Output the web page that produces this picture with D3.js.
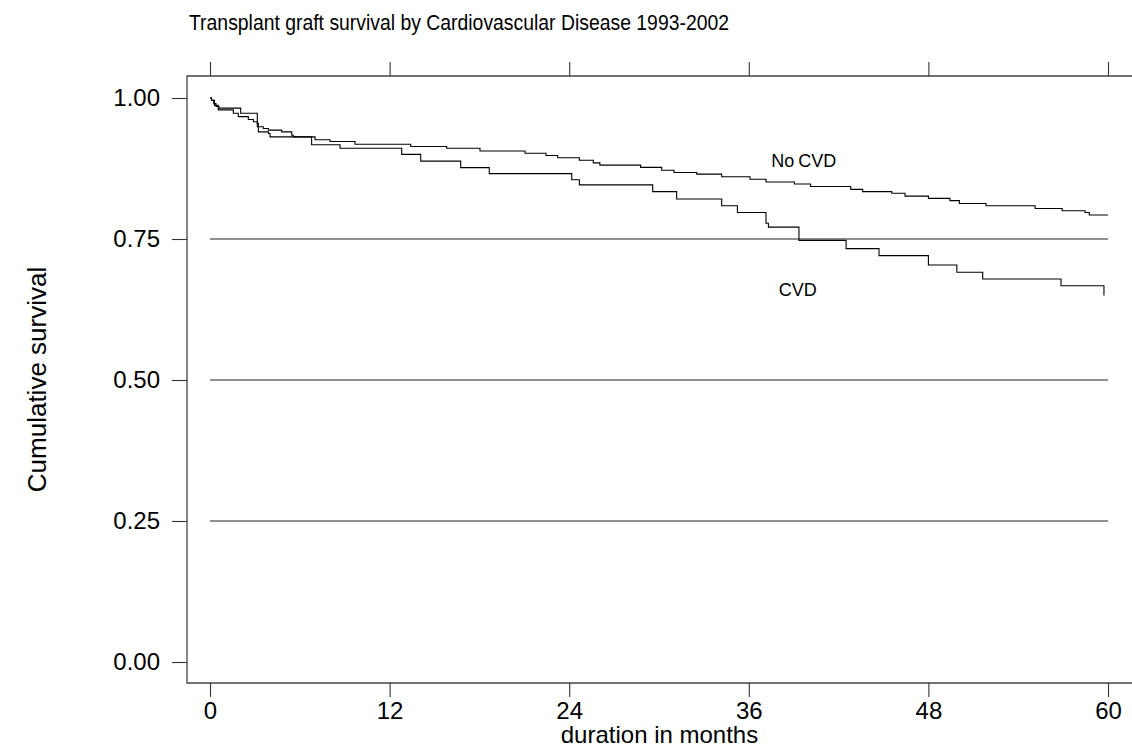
<!DOCTYPE html>
<html>
<head>
<meta charset="utf-8">
<script src="https://cdn.jsdelivr.net/npm/d3@7"></script>
<style>
  html, body { margin: 0; padding: 0; background: #fff; }
  svg text { font-family: "Liberation Sans", Arial, sans-serif; fill: #000; }
</style>
</head>
<body>
<div id="chart"></div>
<script>
// survival step data
const noCvdMonths = [0, 0.1, 0.25, 0.4, 0.6, 2.05, 3.16, 3.56, 3.9, 4.79, 5.46, 5.57, 7.02, 8.02, 9.69,
  13.41, 15.81, 18.04, 21.05, 22.45, 23.23, 24.68, 25.61, 26.05, 28.77, 30.18, 31.0, 32.52, 34.19,
  36.08, 37.15, 39.05, 40.13, 42.81, 43.61, 45.55, 46.44, 48.0, 49.44, 50.07, 51.85, 55.13, 56.94,
  58.47, 58.75, 60];
const noCvdSurv = [1.0, 0.996, 0.990, 0.985, 0.982, 0.973, 0.949, 0.946, 0.943, 0.940, 0.934, 0.931, 0.926, 0.923, 0.918,
  0.914, 0.911, 0.906, 0.902, 0.898, 0.894, 0.8895, 0.885, 0.881, 0.877, 0.872, 0.868, 0.865, 0.8605,
  0.856, 0.851, 0.8475, 0.843, 0.838, 0.834, 0.831, 0.826, 0.822, 0.818, 0.813, 0.809, 0.804, 0.800,
  0.797, 0.7925, 0.7925];

const cvdMonths = [0, 0.1, 0.3, 0.55, 1.56, 1.89, 2.56, 2.9, 3.16, 3.23, 3.9, 4.01, 6.79, 8.69,
  12.81, 14.08, 16.75, 18.66, 24.17, 24.68, 29.58, 31.18, 34.19, 35.24, 37.15, 37.31, 39.35,
  42.5, 44.7, 48.0, 49.9, 51.63, 56.86, 59.73];
const cvdSurv = [1.0, 0.996, 0.987, 0.979, 0.973, 0.967, 0.962, 0.958, 0.955, 0.940, 0.937, 0.931, 0.917, 0.911,
  0.900, 0.888, 0.8765, 0.866, 0.855, 0.846, 0.834, 0.821, 0.809, 0.797, 0.778, 0.771, 0.7475,
  0.733, 0.7205, 0.704, 0.691, 0.679, 0.667, 0.650];

const xTicks = [0, 12, 24, 36, 48, 60];
const yTicks = [0, 0.25, 0.5, 0.75, 1];
const refLines = [0.25, 0.5, 0.75];

const seriesLabels = [
  { text: "No CVD", month: 37.5, surv: 0.878 },
  { text: "CVD", month: 38.0, surv: 0.649 }
];

const W = 1132, H = 749;
const frame = { left: 187, top: 76, right: 1132, bottom: 683 };

const svg = d3.select('#chart')
  .append('svg')
  .attr('width', W)
  .attr('height', H);

const x = d3.scaleLinear().domain([0, 60]).range([210, 1108]);
const y = d3.scaleLinear().domain([0, 1]).range([662, 98]);

// Frame: left, top and bottom lines
svg.append('path')
  .attr('d', `M${frame.right},${frame.top}H${frame.left}V${frame.bottom}H${frame.right}`)
  .style('fill', 'none')
  .style('stroke', '#444')
  .style('stroke-width', 1.3);

// Reference lines
svg.selectAll('.ref')
  .data(refLines)
  .enter()
  .append('line')
  .attr('class', 'ref')
  .attr('x1', x(0)).attr('x2', x(60))
  .attr('y1', d => y(d)).attr('y2', d => y(d))
  .style('stroke', '#222')
  .style('stroke-width', 1.1);

// Bottom axis
const xAxis = svg.append('g')
  .attr('transform', `translate(0,${frame.bottom})`)
  .call(d3.axisBottom(x).tickValues(xTicks).tickSize(14).tickPadding(5).tickFormat(d3.format('d')));
xAxis.select('.domain').remove();
xAxis.selectAll('text').style('font-size', '24px');

// Top ticks without labels
const topAxis = svg.append('g')
  .attr('transform', `translate(0,${frame.top})`)
  .call(d3.axisTop(x).tickValues(xTicks).tickSize(14).tickFormat(''));
topAxis.select('.domain').remove();

// Left axis
const yAxis = svg.append('g')
  .attr('transform', `translate(${frame.left},0)`)
  .call(d3.axisLeft(y).tickValues(yTicks).tickSize(15).tickPadding(12).tickFormat(d3.format('.2f')));
yAxis.select('.domain').remove();
yAxis.selectAll('text').style('font-size', '24px');

svg.selectAll('.tick line').style('stroke', '#333').style('stroke-width', 1.1);

// Step curves
const line = d3.line()
  .x(d => x(d[0]))
  .y(d => y(d[1]))
  .curve(d3.curveStepAfter);

[[noCvdMonths, noCvdSurv], [cvdMonths, cvdSurv]].forEach(([m, s]) => {
  svg.append('path')
    .datum(m.map((v, i) => [v, s[i]]))
    .attr('d', line)
    .style('fill', 'none')
    .style('stroke', '#000')
    .style('stroke-width', 1.1);
});

// Curve labels
svg.selectAll('.series-label')
  .data(seriesLabels)
  .enter()
  .append('text')
  .attr('class', 'series-label')
  .attr('x', d => x(d.month))
  .attr('y', d => y(d.surv))
  .style('font-size', '18px')
  .style('word-spacing', '-1px')
  .text(d => d.text);

// Titles
svg.append('text')
  .attr('x', 189)
  .attr('y', 30)
  .attr('textLength', 540)
  .attr('lengthAdjust', 'spacingAndGlyphs')
  .style('font-size', '22px')
  .text('Transplant graft survival by Cardiovascular Disease 1993-2002');

svg.append('text')
  .attr('text-anchor', 'middle')
  .attr('x', (frame.left + frame.right) / 2)
  .attr('y', 743)
  .style('font-size', '24px')
  .text('duration in months');

svg.append('text')
  .attr('text-anchor', 'middle')
  .attr('transform', `translate(46,${(frame.top + frame.bottom) / 2}) rotate(-90)`)
  .style('font-size', '26px')
  .text('Cumulative survival');
</script>
</body>
</html>
